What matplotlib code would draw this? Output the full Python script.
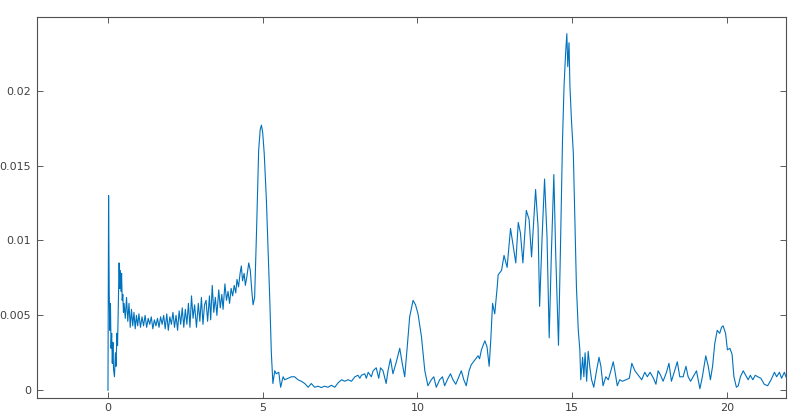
import numpy as np
import matplotlib
matplotlib.use("Agg")
import matplotlib.pyplot as plt

# values, split into stretches of the trace
# onset spike and first bump (0 .. 0.5)
t_onset = [0.0, 0.02, 0.04, 0.06, 0.08, 0.10, 0.12, 0.14, 0.16, 0.18, 0.21, 0.24,
           0.26, 0.29, 0.31, 0.34, 0.36, 0.38, 0.40, 0.42, 0.44, 0.46, 0.48, 0.50]
v_onset = [0.0, 0.0130, 0.0066, 0.0040, 0.0058, 0.0028, 0.0038, 0.0018, 0.0032, 0.0014,
           0.0009, 0.0025, 0.0016, 0.0038, 0.0030, 0.0062, 0.0085, 0.0068, 0.0080, 0.0066,
           0.0078, 0.0060, 0.0064, 0.0052]

# flat noisy band (0.5 .. 2.5)
t_band = [0.52, 0.56, 0.60, 0.64, 0.68, 0.72, 0.76, 0.80, 0.84, 0.88, 0.92, 0.96,
          1.00, 1.05, 1.10, 1.15, 1.20, 1.25, 1.30, 1.35, 1.40, 1.45, 1.50, 1.55,
          1.60, 1.65, 1.70, 1.75, 1.80, 1.85, 1.90, 1.95, 2.00, 2.05, 2.10, 2.15,
          2.20, 2.25, 2.30, 2.35, 2.40, 2.45]
v_band = [0.0058, 0.0048, 0.0062, 0.0046, 0.0058, 0.0042, 0.0054, 0.0043, 0.0052, 0.0041,
          0.0050, 0.0043, 0.0051, 0.0042, 0.0049, 0.0043, 0.0050, 0.0042, 0.0048, 0.0044,
          0.0049, 0.0041, 0.0047, 0.0043, 0.0048, 0.0042, 0.0049, 0.0044, 0.0050, 0.0041,
          0.0051, 0.0040, 0.0049, 0.0044, 0.0052, 0.0042, 0.0050, 0.0040, 0.0053, 0.0044,
          0.0055, 0.0042]

# rising ripples and the peak at 5 (2.5 .. 5.33)
t_rise = [2.50, 2.55, 2.60, 2.65, 2.70, 2.75, 2.80, 2.86, 2.92, 2.97, 3.02, 3.07,
          3.12, 3.17, 3.22, 3.28, 3.32, 3.37, 3.42, 3.47, 3.52, 3.58, 3.63, 3.68,
          3.72, 3.78, 3.83, 3.88, 3.93, 3.98, 4.03, 4.08, 4.13, 4.17, 4.22, 4.27,
          4.31, 4.35, 4.40, 4.44, 4.49, 4.55, 4.60, 4.65, 4.69, 4.74, 4.80, 4.87,
          4.92, 4.96, 5.00, 5.05, 5.12, 5.18, 5.23, 5.28, 5.33]
v_rise = [0.0054, 0.0044, 0.0058, 0.0042, 0.0063, 0.0048, 0.0057, 0.0042, 0.0058, 0.0046,
          0.0062, 0.0044, 0.0057, 0.0060, 0.0046, 0.0063, 0.0047, 0.0070, 0.0052, 0.0062,
          0.0050, 0.0067, 0.0055, 0.0064, 0.0054, 0.0071, 0.0060, 0.0066, 0.0058, 0.0068,
          0.0063, 0.0070, 0.0065, 0.0074, 0.0069, 0.0078, 0.0083, 0.0073, 0.0078, 0.0070,
          0.0076, 0.0085, 0.0080, 0.0066, 0.0057, 0.0062, 0.0105, 0.0160, 0.0174, 0.0177,
          0.0172, 0.0158, 0.0127, 0.0090, 0.0060, 0.0025, 0.00045]

# low stretch and bump near 10 (5.4 .. 10.2)
t_low = [5.39, 5.44, 5.52, 5.58, 5.66, 5.71, 5.82, 5.93, 6.03, 6.14, 6.25, 6.36,
         6.47, 6.57, 6.68, 6.79, 6.90, 7.00, 7.11, 7.22, 7.33, 7.44, 7.55, 7.65,
         7.76, 7.87, 7.98, 8.08, 8.14, 8.19, 8.30, 8.35, 8.41, 8.51, 8.57, 8.67,
         8.75, 8.81, 8.89, 8.99, 9.05, 9.13, 9.21, 9.32, 9.43, 9.51, 9.59, 9.68,
         9.75, 9.86, 9.94, 10.02, 10.13]
v_low = [0.0013, 0.0011, 0.0012, 0.0002, 0.0009, 0.0007, 0.0008, 0.0009, 0.0009, 0.0007,
         0.0006, 0.00045, 0.0002, 0.00045, 0.0002, 0.00027, 0.00018, 0.00027, 0.0002, 0.00033,
         0.0002, 0.0005, 0.0007, 0.0006, 0.0007, 0.0006, 0.0009, 0.0010, 0.0008, 0.0010,
         0.0011, 0.0008, 0.0012, 0.0009, 0.0013, 0.0015, 0.0008, 0.0015, 0.0013, 0.00045,
         0.0013, 0.0021, 0.0011, 0.0019, 0.0028, 0.0018, 0.0009, 0.0031, 0.0049, 0.0060,
         0.0057, 0.0051, 0.0036]

# climb, fringes and main peak near 15 (10.2 .. 15.3)
t_climb = [10.24, 10.34, 10.45, 10.53, 10.61, 10.72, 10.81, 10.88, 10.99, 11.07, 11.15, 11.24,
           11.32, 11.42, 11.50, 11.58, 11.67, 11.74, 11.85, 11.96, 12.01, 12.07, 12.18, 12.25,
           12.32, 12.37, 12.43, 12.50, 12.58, 12.61, 12.72, 12.80, 12.90, 13.01, 13.07, 13.18,
           13.26, 13.33, 13.41, 13.52, 13.61, 13.69, 13.82, 13.90, 13.95, 14.03, 14.11, 14.19,
           14.26, 14.33, 14.41, 14.47, 14.56, 14.62, 14.69, 14.74, 14.79, 14.83, 14.86, 14.90,
           14.93, 14.98, 15.04, 15.09, 15.14, 15.20, 15.25]
v_climb = [0.0013, 0.0003, 0.0007, 0.0009, 0.0002, 0.0007, 0.0009, 0.0003, 0.0008, 0.0011,
           0.0007, 0.0004, 0.0008, 0.0013, 0.0007, 0.0003, 0.0013, 0.0017, 0.0020, 0.0023,
           0.0021, 0.0027, 0.0033, 0.0029, 0.0016, 0.0033, 0.0058, 0.0051, 0.0069, 0.0077,
           0.0080, 0.0090, 0.0082, 0.0108, 0.0100, 0.0085, 0.0112, 0.0105, 0.0085, 0.0120,
           0.0114, 0.0089, 0.0134, 0.0109, 0.0056, 0.0102, 0.0141, 0.0102, 0.0035, 0.0091,
           0.0144, 0.0091, 0.0030, 0.0091, 0.0167, 0.0203, 0.0225, 0.0238, 0.0216, 0.0232,
           0.0203, 0.0180, 0.0158, 0.0114, 0.0069, 0.0040, 0.0027]

# tail with the bump near 20 (15.3 .. 21.9)
t_tail = [15.28, 15.34, 15.38, 15.42, 15.47, 15.52, 15.57, 15.63, 15.70, 15.79, 15.87, 15.93,
          16.00, 16.09, 16.17, 16.24, 16.33, 16.39, 16.46, 16.54, 16.63, 16.74, 16.85, 16.93,
          17.03, 17.14, 17.25, 17.35, 17.43, 17.52, 17.63, 17.71, 17.78, 17.86, 17.94, 18.05,
          18.13, 18.21, 18.30, 18.40, 18.48, 18.59, 18.68, 18.75, 18.83, 18.91, 19.02, 19.13,
          19.21, 19.32, 19.40, 19.47, 19.54, 19.61, 19.69, 19.77, 19.83, 19.88, 19.96, 20.02,
          20.10, 20.17, 20.23, 20.31, 20.37, 20.44, 20.53, 20.61, 20.69, 20.76, 20.84, 20.92,
          21.00, 21.10, 21.21, 21.32, 21.43, 21.54, 21.61, 21.70, 21.77, 21.86, 21.91]
v_tail = [0.0007, 0.0022, 0.0009, 0.0025, 0.0006, 0.0026, 0.0016, 0.0007, 0.0002, 0.0013,
          0.0022, 0.0016, 0.0003, 0.0009, 0.0007, 0.0012, 0.0019, 0.0012, 0.0003, 0.0007,
          0.0006, 0.0007, 0.0008, 0.0018, 0.0013, 0.0010, 0.0007, 0.0012, 0.0009, 0.0012,
          0.0008, 0.0004, 0.0013, 0.0010, 0.0006, 0.0012, 0.0018, 0.0006, 0.0012, 0.0019,
          0.0009, 0.0009, 0.0016, 0.0009, 0.0006, 0.0009, 0.0013, 0.0001, 0.0009, 0.0023,
          0.0016, 0.0007, 0.0016, 0.0031, 0.0040, 0.0038, 0.0042, 0.0043, 0.0038, 0.0027,
          0.0028, 0.0024, 0.0009, 0.0002, 0.0003, 0.0009, 0.0013, 0.0010, 0.0007, 0.0010,
          0.0007, 0.0010, 0.0009, 0.0008, 0.0004, 0.0003, 0.0007, 0.0012, 0.0009, 0.0012,
          0.0008, 0.0012, 0.0009]

x_ticks = [0, 5, 10, 15, 20]
y_ticks = [0, 0.005, 0.01, 0.015, 0.02]
y_tick_labels = ['0', '0.005', '0.01', '0.015', '0.02']

t = np.concatenate([t_onset, t_band, t_rise, t_low, t_climb, t_tail])
v = np.concatenate([v_onset, v_band, v_rise, v_low, v_climb, v_tail])

fig = plt.figure(figsize=(8, 4.2), dpi=100)
ax = fig.add_axes([0.046, 0.053, 0.936, 0.906])
ax.plot(t, v, color='#0072BD', linewidth=0.8)

ax.set_xlim(-2.3, 21.9)
ax.set_ylim(-0.0005, 0.0249)
ax.set_xticks(x_ticks)
ax.set_yticks(y_ticks)
ax.set_yticklabels(y_tick_labels)
ax.tick_params(direction='in', length=4.5, width=0.6, top=True, right=True,
               labelsize=8, labelcolor='#404040', color='#404040', pad=4)
for s in ax.spines.values():
    s.set_color('#505050')
    s.set_linewidth(0.8)

fig.savefig('out.png', dpi=100)
